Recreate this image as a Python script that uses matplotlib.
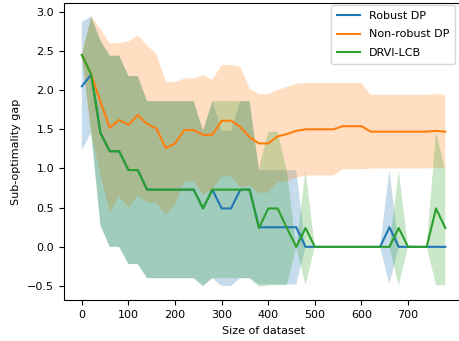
import matplotlib
matplotlib.use("Agg")
import numpy as np
import matplotlib.pyplot as plt

plt.rcParams['font.size'] = 8

sizes = [0, 20, 40, 60, 80, 100, 120, 140, 160, 180, 200, 220, 240, 260, 280, 300, 320, 340, 360, 380,
         400, 420, 440, 460, 480, 500, 520, 540, 560, 580, 600, 620, 640, 660, 680, 700, 720, 740, 760, 780]

# Robust DP
robust_mean = [2.05, 2.20, 1.45, 1.22, 1.22, 0.98, 0.98, 0.73, 0.73, 0.73, 0.73, 0.73, 0.73, 0.49, 0.73, 0.49, 0.49, 0.73, 0.73, 0.25,
               0.25, 0.25, 0.25, 0.25, 0.00, 0.00, 0.00, 0.00, 0.00, 0.00, 0.00, 0.00, 0.00, 0.25, 0.00, 0.00, 0.00, 0.00, 0.00, 0.00]
robust_std = [0.82, 0.74, 1.18, 1.22, 1.22, 1.20, 1.20, 1.13, 1.13, 1.13, 1.13, 1.13, 1.13, 0.99, 1.13, 0.99, 0.99, 1.13, 1.13, 0.73,
              0.73, 0.73, 0.73, 0.73, 0.00, 0.00, 0.00, 0.00, 0.00, 0.00, 0.00, 0.00, 0.00, 0.73, 0.00, 0.00, 0.00, 0.00, 0.00, 0.00]

# Non-robust DP
nonrobust_mean = [2.45, 2.20, 1.85, 1.52, 1.62, 1.56, 1.68, 1.57, 1.51, 1.26, 1.32, 1.49, 1.49, 1.43, 1.43, 1.61, 1.61, 1.53, 1.40, 1.32,
                  1.32, 1.41, 1.44, 1.48, 1.50, 1.50, 1.50, 1.50, 1.54, 1.54, 1.54, 1.47, 1.47, 1.47, 1.47, 1.47, 1.47, 1.47, 1.48, 1.47]
nonrobust_std = [0.00, 0.74, 0.93, 1.08, 0.98, 1.06, 1.02, 1.00, 0.95, 0.85, 0.78, 0.66, 0.66, 0.76, 0.70, 0.71, 0.71, 0.77, 0.62, 0.63,
                 0.63, 0.59, 0.60, 0.60, 0.59, 0.59, 0.59, 0.59, 0.55, 0.55, 0.55, 0.47, 0.47, 0.47, 0.47, 0.47, 0.47, 0.47, 0.47, 0.47]

# DRVI-LCB
drvi_mean = [2.45, 2.20, 1.45, 1.22, 1.22, 0.98, 0.98, 0.73, 0.73, 0.73, 0.73, 0.73, 0.73, 0.49, 0.73, 0.73, 0.73, 0.73, 0.73, 0.24,
             0.49, 0.49, 0.24, 0.00, 0.24, 0.00, 0.00, 0.00, 0.00, 0.00, 0.00, 0.00, 0.00, 0.00, 0.24, 0.00, 0.00, 0.00, 0.49, 0.24]
drvi_std = [0.00, 0.74, 1.18, 1.22, 1.22, 1.20, 1.20, 1.13, 1.13, 1.13, 1.13, 1.13, 1.13, 0.99, 1.13, 1.13, 1.13, 1.13, 1.13, 0.75,
            0.98, 0.98, 0.73, 0.00, 0.73, 0.00, 0.00, 0.00, 0.00, 0.00, 0.00, 0.00, 0.00, 0.00, 0.73, 0.00, 0.00, 0.00, 0.98, 0.73]

xtick_vals = [0, 100, 200, 300, 400, 500, 600, 700]

series = [("Robust DP", robust_mean, robust_std),
          ("Non-robust DP", nonrobust_mean, nonrobust_std),
          ("DRVI-LCB", drvi_mean, drvi_std)]

fig = plt.figure(figsize=(4.59, 3.41), dpi=100)
# axes run past the right edge, like the cropped original
ax = fig.add_axes([63.7/459, 40.7/341, 399.8/459, 297.3/341])

x = np.array(sizes)
for name, m, s in series:
    m = np.array(m)
    s = np.array(s)
    ax.plot(x, m, label=name)
    ax.fill_between(x, m - s, m + s, alpha=0.25)

ax.set_xticks(xtick_vals)
ax.set_xlabel("Size of dataset")
ax.set_ylabel("Sub-optimality gap")
ax.legend(loc="upper right", bbox_to_anchor=(455/459, 1 - 5/341),
          bbox_transform=fig.transFigure, borderaxespad=0,
          labelspacing=0.75, borderpad=0.55)

fig.savefig("out.png", dpi=100)
